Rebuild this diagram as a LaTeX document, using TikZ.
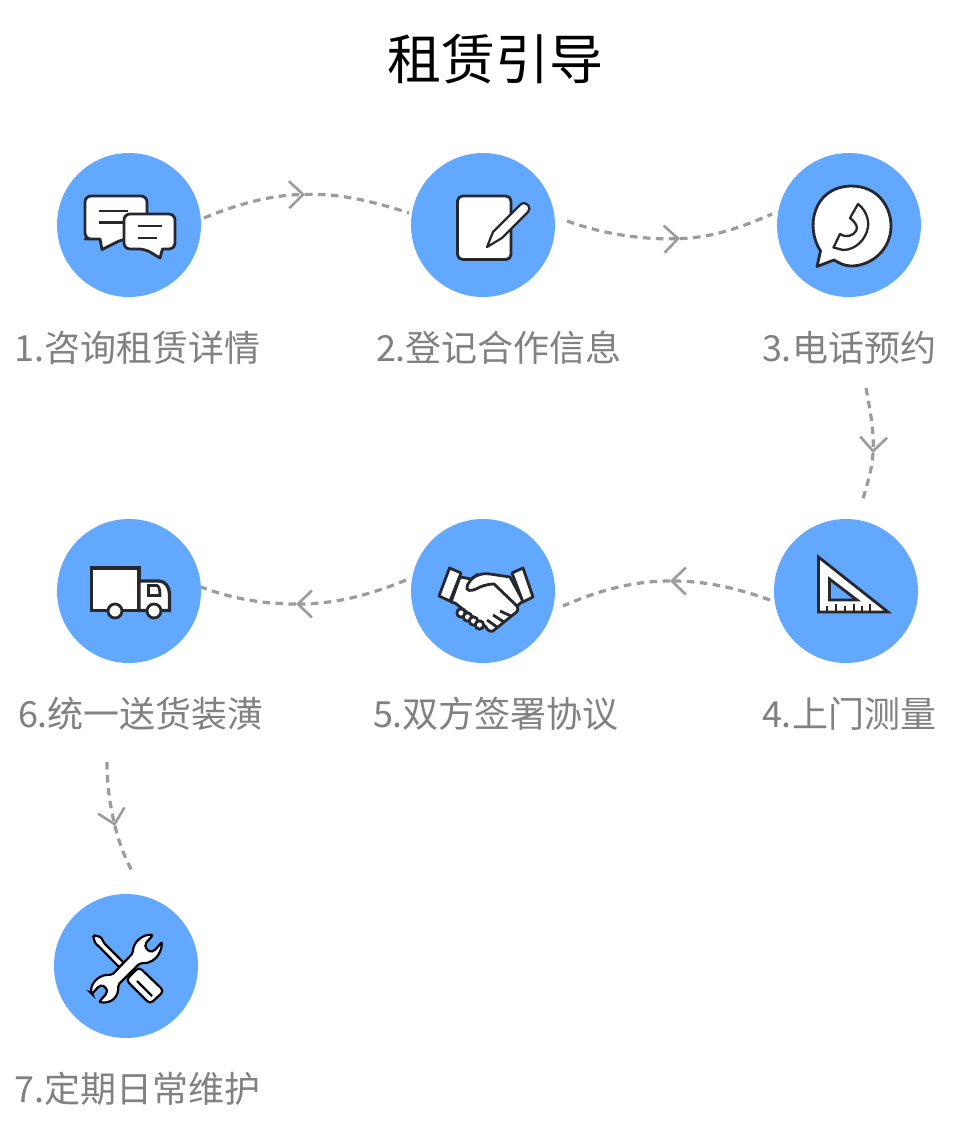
\documentclass[tikz,border=0pt]{standalone}
\usepackage{fontspec}
\setmainfont{Noto Sans CJK SC}
\usetikzlibrary{arrows.meta}
\definecolor{disc}{HTML}{62A8FF}
\definecolor{ink}{HTML}{26282E}
\definecolor{flowgray}{HTML}{9C9C9C}
\definecolor{labelgray}{HTML}{818181}
\tikzset{
  stepdisc/.style={circle,fill=disc,minimum size=144pt,inner sep=0pt},
  steplabel/.style={text=labelgray,font=\fontsize{36pt}{40pt}\selectfont,inner sep=0pt,anchor=center},
  titletext/.style={text=black,font=\fontsize{54pt}{60pt}\selectfont,inner sep=0pt},
  flow/.style={draw=flowgray,line width=3.2pt,dash pattern=on 7.5pt off 5.5pt},
  flowtip/.style={flow,-{Straight Barb[length=14pt,width=27pt,line width=2.6pt]}},
  icon/.style={draw=ink,fill=white,line width=2.8pt,line join=round},
  iconthin/.style={draw=ink,line width=2.8pt},
}
\begin{document}
\begin{tikzpicture}[x=1pt,y=-1pt]
\useasboundingbox[fill=white] (0,0) rectangle (960,1140);
\node[titletext] (title) at (495,59.5) {租赁引导};
% discs
\node[stepdisc] (s1) at (129,225) {};
\node[stepdisc] (s2) at (483,225) {};
\node[stepdisc] (s3) at (849,225) {};
\node[stepdisc] (s4) at (846,591) {};
\node[stepdisc] (s5) at (483,591) {};
\node[stepdisc] (s6) at (129,591) {};
\node[stepdisc] (s7) at (126,966) {};
% labels
\node[steplabel] (l1) at (137.5,347.5) {1.咨询租赁详情};
\node[steplabel] (l2) at (499,347.5) {2.登记合作信息};
\node[steplabel] (l3) at (849,347.5) {3.电话预约};
\node[steplabel] (l4) at (849,713.5) {4.上门测量};
\node[steplabel] (l5) at (496,713.5) {5.双方签署协议};
\node[steplabel] (l6) at (141,713.5) {6.统一送货装潢};
\node[steplabel] (l7) at (137.5,1088.5) {7.定期日常维护};
% connector way points
\coordinate (a1) at (204,218); \coordinate (m1) at (305,194.5); \coordinate (b1) at (409,213);
\coordinate (a2) at (567,221); \coordinate (m2) at (680,238.5); \coordinate (b2) at (772,214);
\coordinate (a3) at (866,388); \coordinate (m3) at (873,453); \coordinate (b3) at (862,502);
\coordinate (a4) at (770,600); \coordinate (m4) at (670,581); \coordinate (b4) at (563,606);
\coordinate (a5) at (406,580); \coordinate (m5) at (296,604); \coordinate (b5) at (201,587);
\coordinate (a6) at (107,762); \coordinate (m6) at (115,826); \coordinate (b6) at (133,873);
\draw[flowtip] (a1) .. controls (235,205) and (270,195) .. (m1);
\draw[flow] (m1) .. controls (340,193) and (375,202) .. (b1);
\draw[flowtip] (a2) .. controls (600,233) and (640,240) .. (m2);
\draw[flow] (m2) .. controls (712,238) and (745,226) .. (b2);
\draw[flowtip] (a3) .. controls (870,410) and (874,430) .. (m3);
\draw[flow] (m3) .. controls (872,470) and (867,485) .. (b3);
\draw[flowtip] (a4) .. controls (737,588) and (705,581) .. (m4);
\draw[flow] (m4) .. controls (630,581) and (595,592) .. (b4);
\draw[flowtip] (a5) .. controls (370,595) and (335,604) .. (m5);
\draw[flow] (m5) .. controls (262,604) and (230,598) .. (b5);
\draw[flowtip] (a6) .. controls (107,785) and (110,805) .. (m6);
\draw[flow] (m6) .. controls (119,843) and (125,858) .. (b6);
% icon 1: chat bubbles
\draw[icon,rounded corners=6pt] (100,239) -- (91,239) -- (85,239) -- (85,196) -- (147,196) -- (147,239) -- (123,239) [sharp corners] -- (102,249.5) -- (100,239) -- cycle;
\draw[iconthin] (99,211) -- (128,211) (99,222.7) -- (123,222.7);
\draw[icon] (145,249) -- (160,258) -- (162.5,249) [rounded corners=6pt] -- (175,249) -- (175,214) -- (124,214) -- (124,249) -- cycle;
\draw[iconthin] (138,226) -- (162,226) (138,238) -- (157,238);
% icon 2: note and pencil
\draw[icon,rounded corners=5pt] (457.5,196) rectangle (511,259.5);
\draw[icon,line width=2.2pt] (487,247) -- (493,232) -- (520,205) .. controls (523,202) and (526,203) .. (528,205) .. controls (530,207) and (530,210) .. (528,212) -- (502,238) -- cycle;
% icon 3: phone bubble
\draw[icon] (820.5,251) .. controls (805,227) and (813,187) .. (851,186) .. controls (879,186) and (891,208) .. (891,226) .. controls (891,250) and (871,266) .. (851,266) .. controls (845,266) and (839,263) .. (834,260) -- (817,266.5) -- cycle;
\draw[iconthin,line join=round,line width=2.3pt] (858,204) .. controls (866,210) and (869,220) .. (868,227) .. controls (866,240) and (855,250) .. (843,250) -- (833.5,247.5) -- (840,234) .. controls (846,238) and (853,236) .. (856,231) .. controls (858,227) and (857,224) .. (850,218) -- cycle;
% icon 4: set square
\draw[icon,line join=miter] (818.5,557) -- (818.5,612) -- (888,612) -- cycle;
\draw[icon,fill=disc,line join=miter] (829.5,579) -- (829.5,600) -- (857,600) -- cycle;
\draw[draw=ink,line width=2pt] (827,612) -- (827,606) (836,612) -- (836,604) (845,612) -- (845,606) (854,612) -- (854,604) (862,612) -- (862,606) (869.5,612) -- (869.5,604);
% icon 5: handshake
\draw[icon] (460,577) -- (471,579) .. controls (478,574) and (484,573) .. (490,574) -- (510,577) -- (523,601) -- (517,606) .. controls (519,610) and (517,612) .. (514,614) -- (493,631) .. controls (490,632) and (487,630) .. (486,627) -- (455,603) -- (451,602) -- cycle;
\draw[iconthin] (478,574) .. controls (472,578) and (466,584) .. (467,589) .. controls (469,592) and (475,590) .. (480,587) .. controls (485,585) and (490,584) .. (494,584) -- (517,606);
\draw[iconthin] (500,611) -- (511,616) (493,615) -- (504,622) (487,620) -- (497,627);
\foreach \nm/\cx/\cy in {f1/461/613,f2/467.5/617,f3/473.5/621,f4/479.5/625}{
  \draw[icon] (\cx,\cy) circle (4.2pt);
}
\draw[icon] (449.5,568) -- (461,573) -- (450,601) -- (439,596) -- cycle;
\draw[icon] (512,573) -- (523,568) -- (533,597) -- (523,602) -- cycle;
% icon 6: truck
\draw[icon,line width=3.2pt,line join=miter] (91.5,568) rectangle (139,610.5);
\draw[icon,line width=3.2pt,line join=miter] (139,581) -- (159,581) .. controls (165,581) and (169.5,587) .. (169.5,594) -- (169.5,610.5) -- (139,610.5) -- cycle;
\draw[icon,line width=2.8pt,line join=miter] (148.5,585.5) -- (157,585.5) .. controls (159,586) and (160,590) .. (160,595.5) -- (148.5,595.5) -- cycle;
\draw[icon] (115,611) circle (7pt);
\draw[icon] (154,611) circle (7pt);
% icon 7: tools
\draw[draw=black,fill=white,line width=2.2pt,rounded corners=1.5pt] (93,935) -- (101,937) -- (104,943) -- (124,963) -- (119,967) -- (100,947.5) -- (95,943) -- cycle;
\draw[draw=black,fill=white,line width=2.2pt,rounded corners=4pt] (126,980) -- (139,967) -- (164,991) -- (150,1004) -- cycle;
\draw[draw=black,line width=2.2pt] (137,981) -- (152,996);
\draw[draw=black,fill=white,line width=2.2pt,rounded corners=2pt] (153,935) .. controls (143,934) and (133,942) .. (133,953) -- (112,975) .. controls (100,974) and (91,982) .. (91,993) -- (92,994) -- (99,986) .. controls (104,985) and (107,989) .. (107,993) -- (99,1002) .. controls (112,1004) and (119,996) .. (118,985) -- (140,963) .. controls (152,964) and (161,956) .. (162,942) -- (154,951) .. controls (149,952) and (146,949) .. (145,944) -- cycle;
\end{tikzpicture}
\end{document}
